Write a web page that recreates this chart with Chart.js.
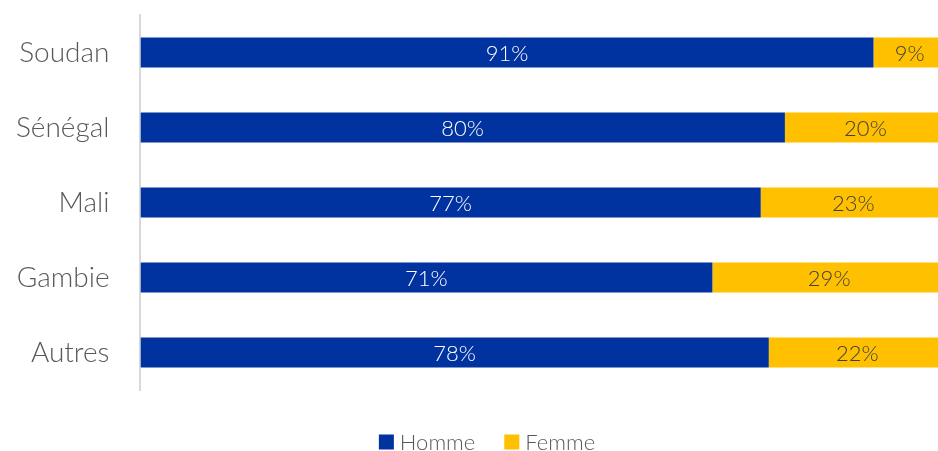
<!DOCTYPE html>
<html>
<head>
<meta charset="utf-8">
<script src="https://cdn.jsdelivr.net/npm/chart.js@4"></script>
<style>
  html, body { margin: 0; padding: 0; background: #ffffff; }
  #wrap { width: 938px; height: 451px; overflow: hidden; }
  #c { display: block; }
</style>
</head>
<body>
<!-- the canvas is a little wider than the frame, so the bars run off its right edge -->
<div id="wrap"><canvas id="c" width="946" height="451"></canvas></div>
<script>
const categories = ['Soudan', 'Sénégal', 'Mali', 'Gambie', 'Autres'];
const homme = [91, 80, 77, 71, 78];
const femme = [9, 20, 23, 29, 22];
const seriesNames = ['Homme', 'Femme'];

const FONT = 'Lato, "Open Sans", sans-serif';

// Writes each segment's percentage at the centre of its bar
const barValueLabels = {
  id: 'barValueLabels',
  afterDatasetsDraw(chart) {
    const ctx = chart.ctx;
    ctx.save();
    ctx.font = '300 22px ' + FONT;
    ctx.textAlign = 'center';
    ctx.textBaseline = 'middle';
    chart.data.datasets.forEach((ds, di) => {
      const meta = chart.getDatasetMeta(di);
      meta.data.forEach((bar, i) => {
        const p = bar.getProps(['x', 'y', 'base'], true);
        ctx.fillStyle = ds.labelColor;
        ctx.fillText(ds.data[i] + '%', (p.x + p.base) / 2, p.y + 1);
      });
    });
    ctx.restore();
  }
};

// Series key below the plot: square swatch followed by the series name
const bottomKey = {
  id: 'bottomKey',
  afterDraw(chart) {
    const ctx = chart.ctx;
    const box = 15, gap = 6, spacing = 29;
    const centreX = 487, centreY = chart.height - 9;
    ctx.save();
    ctx.font = '300 22px ' + FONT;
    ctx.textBaseline = 'middle';
    ctx.textAlign = 'left';
    const items = chart.data.datasets.map(ds => ({
      text: ds.label, color: ds.backgroundColor, w: ctx.measureText(ds.label).width
    }));
    const total = items.reduce((s, it) => s + box + gap + it.w, 0) + spacing * (items.length - 1);
    let x = centreX - total / 2;
    items.forEach(it => {
      ctx.fillStyle = it.color;
      ctx.fillRect(x, centreY - box / 2, box, box);
      ctx.fillStyle = '#595959';
      ctx.fillText(it.text, x + box + gap, centreY + 1);
      x += box + gap + it.w + spacing;
    });
    ctx.restore();
  }
};

new Chart(document.getElementById('c'), {
  type: 'bar',
  data: {
    labels: categories,
    datasets: [
      { label: seriesNames[0], data: homme, backgroundColor: '#0033A0', labelColor: '#ffffff' },
      { label: seriesNames[1], data: femme, backgroundColor: '#FFC000', labelColor: '#404040' }
    ]
  },
  options: {
    indexAxis: 'y',
    responsive: false,
    animation: false,
    layout: { padding: { top: 15, right: 0, bottom: 61, left: 16 } },
    datasets: { bar: { barPercentage: 0.4, categoryPercentage: 1.0 } },
    scales: {
      x: { stacked: true, min: 0, max: 100, display: false },
      y: {
        stacked: true,
        grid: { display: false, drawTicks: true, tickLength: 31 },
        border: { display: true, color: '#d9d9d9', width: 2 },
        ticks: { color: '#595959', font: { family: FONT, size: 28, weight: '300', lineHeight: 1 }, padding: 0 }
      }
    },
    plugins: {
      legend: { display: false },
      tooltip: { enabled: false }
    }
  },
  plugins: [barValueLabels, bottomKey]
});
</script>
</body>
</html>
